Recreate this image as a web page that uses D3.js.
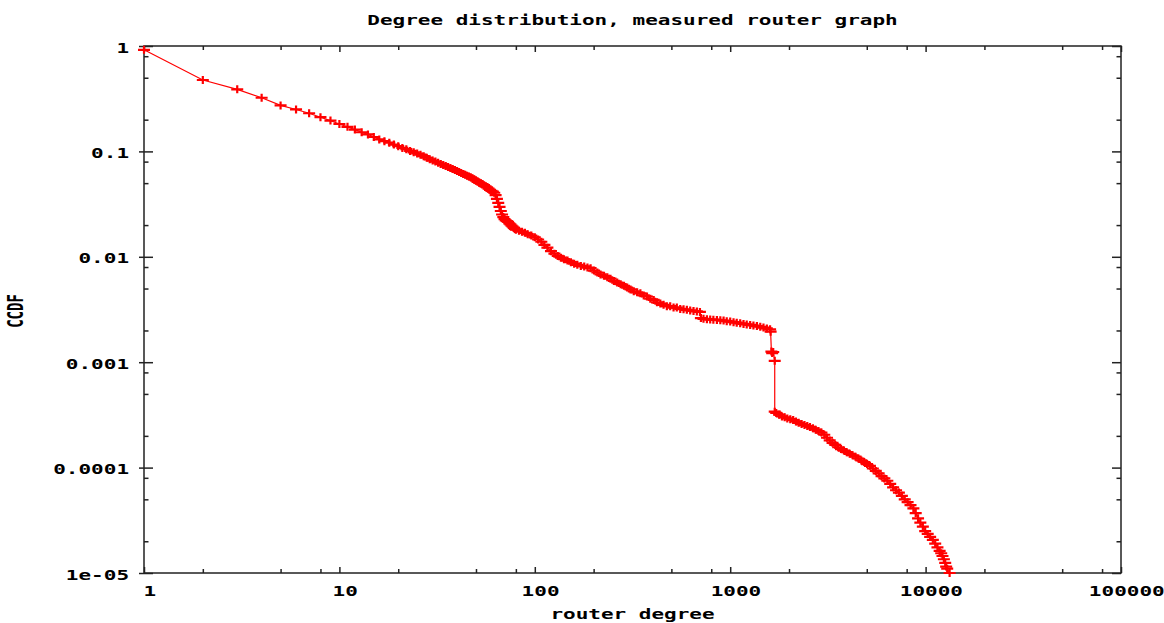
<!DOCTYPE html>
<html>
<head>
<meta charset="utf-8">
<script src="https://cdn.jsdelivr.net/npm/d3@7"></script>
<style>
    body { margin: 0; background: #fff; }
    text { font-family: "DejaVu Sans Mono", monospace; font-weight: bold; font-size: 14px; fill: #000; }
</style>
</head>
<body>
<svg id="viz" width="1164" height="623"></svg>
<script>
// Degree distribution (CCDF), measured router graph

// degrees 1..80, one point per integer degree
const degreeLow = [1, 2, 3, 4, 5, 6, 7, 8, 9, 10, 11, 12, 13, 14, 15, 16, 17, 18, 19, 20,
    21, 22, 23, 24, 25, 26, 27, 28, 29, 30, 31, 32, 33, 34, 35, 36, 37, 38, 39, 40,
    41, 42, 43, 44, 45, 46, 47, 48, 49, 50, 51, 52, 53, 54, 55, 56, 57, 58, 59, 60,
    61, 62, 63, 64, 65, 66, 67, 68, 69, 70, 71, 72, 73, 74, 75, 76, 77, 78, 79, 80];
const ccdfLow = [0.92, 0.476, 0.388, 0.323, 0.273, 0.250, 0.230, 0.211, 0.196, 0.182,
    0.171, 0.161, 0.152, 0.145, 0.137, 0.130, 0.125, 0.121, 0.116, 0.112,
    0.108, 0.105, 0.101, 0.098, 0.0955, 0.093, 0.090, 0.087, 0.0841, 0.0818,
    0.080, 0.078, 0.076, 0.0743, 0.0725, 0.071, 0.0695, 0.068, 0.0665, 0.065,
    0.0638, 0.0625, 0.0612, 0.060, 0.0588, 0.0578, 0.0568, 0.0555, 0.0543, 0.053,
    0.0515, 0.0502, 0.0495, 0.049, 0.0478, 0.0466, 0.0455, 0.0443, 0.0432, 0.0422,
    0.0415, 0.0405, 0.0385, 0.0355, 0.0325, 0.0298, 0.0272, 0.0252, 0.0238, 0.0228,
    0.0222, 0.0218, 0.0214, 0.0208, 0.0203, 0.0198, 0.0193, 0.0188, 0.0184, 0.0181];

// 80 .. 1600
const degreeMid = [83, 86, 89, 92, 96, 100, 104, 108, 112, 116, 121, 126, 131, 136, 141, 147, 153, 159, 165, 172,
    179, 186, 193, 201, 209, 217, 226, 235, 244, 254, 264, 275, 286, 297, 309, 321, 334, 347, 361, 375,
    390, 406, 422, 439, 456, 474, 493, 513, 533, 555, 577, 600, 624, 649, 675, 700, 708, 730, 760, 790,
    820, 855, 890, 925, 960, 1000, 1040, 1080, 1125, 1170, 1215, 1265, 1315, 1370, 1425, 1480, 1540, 1600];
const ccdfMid = [0.0177, 0.0173, 0.0169, 0.0164, 0.0159, 0.0153, 0.0146, 0.0139, 0.0130, 0.0122,
    0.0113, 0.0107, 0.0102, 0.0098, 0.0095, 0.0092, 0.0089, 0.0086, 0.0084, 0.0082,
    0.0081, 0.0079, 0.0078, 0.0074, 0.0071, 0.0068, 0.0066, 0.0064, 0.0062, 0.0059,
    0.0057, 0.0055, 0.0053, 0.0051, 0.0049, 0.0047, 0.0046, 0.0045, 0.0043, 0.0042,
    0.0040, 0.0039, 0.0037, 0.0036, 0.0035, 0.0034, 0.0034, 0.0033, 0.0033, 0.0032,
    0.00318, 0.00314, 0.00310, 0.00306, 0.00303, 0.00300, 0.00262, 0.00258, 0.00256, 0.00254,
    0.00253, 0.00252, 0.00250, 0.00248, 0.00245, 0.00243, 0.00240, 0.00237, 0.00234, 0.00231,
    0.00228, 0.00226, 0.00223, 0.00220, 0.00217, 0.00213, 0.00209, 0.00205];

// the big step near degree 1600
const degreeDrop = [1610, 1625, 1640, 1660, 1690, 1690];
const ccdfDrop = [0.00195, 0.00126, 0.00122, 0.00125, 0.00103, 0.000339];

// tail
const degreeTail = [1720, 1780, 1840, 1900, 1960, 2030, 2100, 2170, 2240, 2320, 2400, 2480, 2560, 2650, 2740,
    2830, 2930, 3030, 3130, 3230, 3340, 3450, 3570, 3690, 3820, 3950, 4090, 4230, 4380, 4530,
    4690, 4850, 5020, 5190, 5370, 5560, 5750, 5950, 6150, 6370, 6590, 6820, 7060, 7300, 7560,
    7820, 8090, 8370, 8660, 8900, 9150, 9400, 9680, 9950, 10250, 10550, 10890, 11200, 11500, 11800,
    12020, 12200, 12400, 12600, 12740, 12900, 13270];
const ccdfTail = [0.000330, 0.000318, 0.000306, 0.000300, 0.000293, 0.000288, 0.000283, 0.000274, 0.000266, 0.000259,
    0.000253, 0.000248, 0.000243, 0.000236, 0.000229, 0.000222, 0.000215, 0.000205, 0.000192, 0.000181,
    0.000172, 0.000164, 0.000156, 0.000150, 0.000145, 0.000140, 0.000135, 0.000131, 0.000127, 0.000122,
    0.000117, 0.000113, 0.000108, 0.000104, 9.8e-5, 9.3e-5, 8.8e-5, 8.3e-5, 7.9e-5, 7.5e-5,
    7.0e-5, 6.5e-5, 6.1e-5, 5.8e-5, 5.4e-5, 5.0e-5, 4.7e-5, 4.4e-5, 4.1e-5, 3.7e-5,
    3.3e-5, 3.0e-5, 2.75e-5, 2.5e-5, 2.35e-5, 2.2e-5, 2.06e-5, 1.9e-5, 1.75e-5, 1.62e-5,
    1.54e-5, 1.45e-5, 1.35e-5, 1.25e-5, 1.15e-5, 1.1e-5, 1.0e-5];

const xTickValues = [1, 10, 100, 1000, 10000, 100000];
const xTickLabels = ["1", "10", "100", "1000", "10000", "100000"];
const yTickValues = [1, 0.1, 0.01, 0.001, 0.0001, 0.00001];
const yTickLabels = ["1", "0.1", "0.01", "0.001", "0.0001", "1e-05"];
const minorSteps = [2, 5, 8];

const titleText = "Degree distribution, measured router graph";
const xTitle = "router degree";
const yTitle = "CCDF";

var svg = d3.select("#viz");
var margin = { left: 144, right: 43, top: 46, bottom: 50 };
var width = +svg.attr("width");
var height = +svg.attr("height");
var stretch = "scale(1.5,1)"; // gnuplot gif text is wide

var x = d3.scaleLog().domain([1, 100000]).range([margin.left, width - margin.right]);
var y = d3.scaleLog().domain([0.00001, 1]).range([height - margin.bottom, margin.top]);

var points = [];
[[degreeLow, ccdfLow], [degreeMid, ccdfMid], [degreeDrop, ccdfDrop], [degreeTail, ccdfTail]]
    .forEach(pair => pair[0].forEach((d, i) => points.push({ deg: d, c: pair[1][i] })));

var minorX = [], minorY = [];
xTickValues.slice(0, -1).forEach(v => minorSteps.forEach(m => minorX.push(v * m)));
yTickValues.slice(1).forEach(v => minorSteps.forEach(m => minorY.push(v * m)));

var x0 = x.range()[0], x1 = x.range()[1], y0 = y.range()[0], y1 = y.range()[1];

// axes, ticks drawn inward
var axisStyle = g => {
    g.select(".domain").remove();
    g.selectAll("line").attr("stroke", "#222").attr("stroke-width", 1.5);
    g.attr("font-family", null).attr("font-size", null);
};

svg.append("g")
    .attr("transform", `translate(0,${y0})`)
    .call(d3.axisBottom(x).tickValues(xTickValues).tickSize(-6).tickPadding(17)
        .tickFormat((d, i) => xTickLabels[i]))
    .call(axisStyle)
    .call(g => g.selectAll("text").attr("dx", 3.5).attr("dy", 0)
        .attr("y", 23).attr("transform", stretch));
svg.append("g")
    .attr("transform", `translate(0,${y0})`)
    .call(d3.axisBottom(x).tickValues(minorX).tickSize(-4).tickFormat(""))
    .call(axisStyle);
svg.append("g")
    .attr("transform", `translate(0,${y1})`)
    .call(d3.axisTop(x).tickValues(xTickValues).tickSize(-6).tickFormat(""))
    .call(axisStyle);
svg.append("g")
    .attr("transform", `translate(0,${y1})`)
    .call(d3.axisTop(x).tickValues(minorX).tickSize(-4).tickFormat(""))
    .call(axisStyle);

svg.append("g")
    .attr("transform", `translate(${x0},0)`)
    .call(d3.axisLeft(y).tickValues(yTickValues).tickSize(-9)
        .tickFormat((d, i) => yTickLabels[i]))
    .call(axisStyle)
    .call(g => g.selectAll("line").attr("x1", -5))
    .call(g => g.selectAll("text").attr("x", -10).attr("dy", 0).attr("y", 6)
        .attr("text-anchor", "end").attr("transform", stretch));
svg.append("g")
    .attr("transform", `translate(${x0},0)`)
    .call(d3.axisLeft(y).tickValues(minorY).tickSize(-4.5).tickFormat(""))
    .call(axisStyle);
svg.append("g")
    .attr("transform", `translate(${x1},0)`)
    .call(d3.axisRight(y).tickValues(yTickValues).tickSize(-9).tickFormat(""))
    .call(axisStyle);
svg.append("g")
    .attr("transform", `translate(${x1},0)`)
    .call(d3.axisRight(y).tickValues(minorY).tickSize(-4.5).tickFormat(""))
    .call(axisStyle);

// border
svg.append("rect")
    .attr("x", x0).attr("y", y1)
    .attr("width", x1 - x0).attr("height", y0 - y1)
    .attr("fill", "none")
    .attr("stroke", "#222")
    .attr("stroke-width", 1.5);

// titles
svg.append("text")
    .attr("transform", `translate(${(x0 + x1) / 2},25) ${stretch}`)
    .attr("text-anchor", "middle")
    .text(titleText);
svg.append("text")
    .attr("transform", `translate(${(x0 + x1) / 2},619) ${stretch}`)
    .attr("text-anchor", "middle")
    .text(xTitle);
svg.append("text")
    .attr("transform", `translate(23,311) ${stretch} rotate(-90)`)
    .attr("text-anchor", "middle")
    .text(yTitle);

// data: line + crosses
var line = d3.line().x(d => x(d.deg)).y(d => y(d.c));

svg.append("path")
    .datum(points)
    .attr("fill", "none")
    .attr("stroke", "#ff0000")
    .attr("stroke-width", 1.2)
    .attr("d", line);

svg.append("g")
    .selectAll("path.pt")
    .data(points)
    .enter()
    .append("path")
    .attr("class", "pt")
    .attr("transform", d => `translate(${x(d.deg)},${y(d.c)})`)
    .attr("d", "M-6,0H6M0,-4V4")
    .attr("stroke", "#ff0000")
    .attr("stroke-width", 2.2)
    .attr("fill", "none");
</script>
</body>
</html>
